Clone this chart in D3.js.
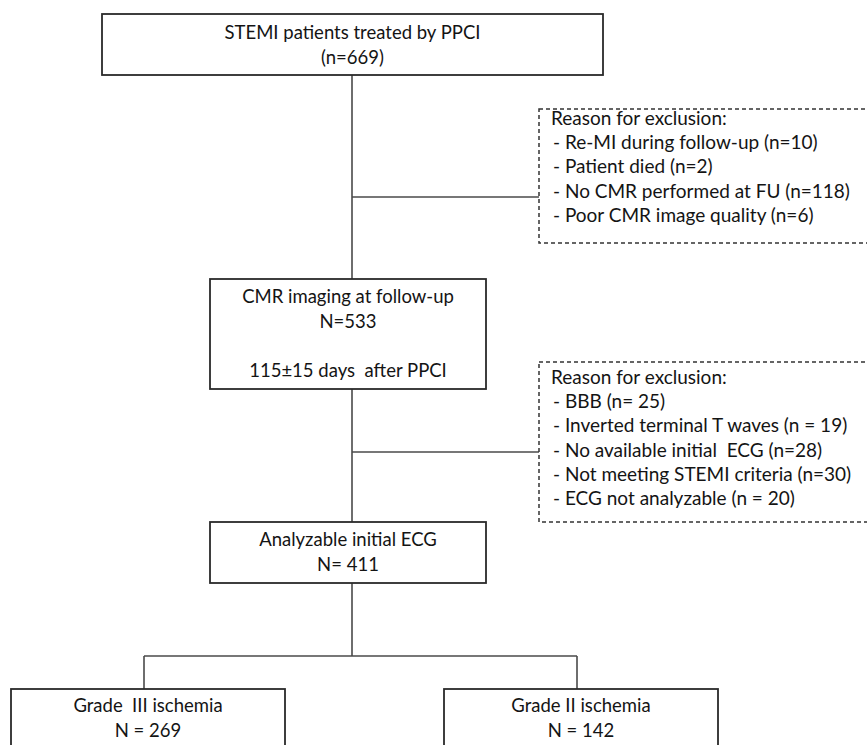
<!DOCTYPE html>
<html>
<head>
<meta charset="utf-8">
<script src="https://cdn.jsdelivr.net/npm/d3@7"></script>
<style>
  body { margin: 0; background: #fff; }
  text { font-family: Lato, "Open Sans", sans-serif; fill: #141414; white-space: pre; }
</style>
</head>
<body>
<div id="chart"></div>
<script>
// flowchart content
const stepIds = ['enrolled', 'cmr', 'ecg', 'grade3', 'grade2'];
const stepTitles = ['STEMI patients treated by PPCI', 'CMR imaging at follow-up', 'Analyzable initial ECG', 'Grade  III ischemia', 'Grade II ischemia'];
const stepCounts = ['(n=669)', 'N=533', 'N= 411', 'N = 269', 'N = 142'];
const stepNotes = ['', '115\u00b115 days  after PPCI', '', '', ''];

const exclusionTitle = 'Reason for exclusion:';
const exclusionAfterPPCI = [
  '- Re-MI during follow-up (n=10)',
  '- Patient died (n=2)',
  '- No CMR performed at FU (n=118)',
  '- Poor CMR image quality (n=6)'
];
const exclusionAfterCMR = [
  '- BBB (n= 25)',
  '- Inverted terminal T waves (n = 19)',
  '- No available initial  ECG (n=28)',
  '- Not meeting STEMI criteria (n=30)',
  '- ECG not analyzable (n = 20)'
];

// layout (page units)
const layout = {
  enrolled: {x0: 102, x1: 603, y0: 14, y1: 75, base: 39},
  cmr: {x0: 210, x1: 486, y0: 279, y1: 389, base: 303},
  ecg: {x0: 210, x1: 486, y0: 522, y1: 583, base: 546},
  grade3: {x0: 11, x1: 285, y0: 689, y1: 765, base: 712},
  grade2: {x0: 444, x1: 718, y0: 689, y1: 765, base: 712}
};
const exclusionLayout = [
  {x0: 539, x1: 872, y0: 109, y1: 243, base: 125, branchY: 197},
  {x0: 539, x1: 872, y0: 362, y1: 522, base: 384, branchY: 452}
];
const config = {
  width: 867, height: 745,
  spineX: 352, splitY: 656, dropX: [144, 577],
  lineHeight: 24.6, boxFont: 18.5, noteFont: 19
};

const x = d3.scaleLinear().domain([0, config.width]).range([0, config.width]);
const y = d3.scaleLinear().domain([0, config.height]).range([0, config.height]);

const svg = d3.select('#chart')
  .append('svg')
  .attr('width', config.width)
  .attr('height', config.height);

// connectors
const connectors = [
  [[config.spineX, layout.enrolled.y1], [config.spineX, layout.cmr.y0]],
  [[config.spineX, layout.cmr.y1], [config.spineX, layout.ecg.y0]],
  [[config.spineX, layout.ecg.y1], [config.spineX, config.splitY]],
  [[config.dropX[0], config.splitY], [config.dropX[1], config.splitY]],
  [[config.dropX[0], config.splitY], [config.dropX[0], layout.grade3.y0]],
  [[config.dropX[1], config.splitY], [config.dropX[1], layout.grade2.y0]],
  ...exclusionLayout.map(d => [[config.spineX, d.branchY], [d.x0, d.branchY]])
];
const line = d3.line().x(d => x(d[0])).y(d => y(d[1]));
svg.selectAll('.connector')
  .data(connectors)
  .join('path')
  .attr('class', 'connector')
  .attr('d', line)
  .attr('fill', 'none')
  .attr('stroke', '#4a4a4a')
  .attr('stroke-width', 1.6);

// step boxes
const steps = stepIds.map((id, i) => ({
  id,
  lines: [stepTitles[i], stepCounts[i]].concat(stepNotes[i] ? ['', stepNotes[i]] : []),
  ...layout[id]
}));

const boxes = svg.selectAll('.step')
  .data(steps)
  .join('g')
  .attr('class', 'step');

boxes.append('rect')
  .attr('x', d => x(d.x0))
  .attr('y', d => y(d.y0))
  .attr('width', d => x(d.x1) - x(d.x0))
  .attr('height', d => y(d.y1) - y(d.y0))
  .attr('fill', '#fff')
  .attr('stroke', '#2a2a2a')
  .attr('stroke-width', 1.8);

boxes.selectAll('text')
  .data(d => d.lines.map((t, j) => ({t, cx: (d.x0 + d.x1) / 2, by: d.base + j * config.lineHeight})))
  .join('text')
  .attr('x', d => x(d.cx))
  .attr('y', d => y(d.by))
  .attr('text-anchor', 'middle')
  .style('font-size', config.boxFont + 'px')
  .text(d => d.t);

// exclusion boxes
const exclusions = [exclusionAfterPPCI, exclusionAfterCMR].map((items, i) => ({
  lines: [exclusionTitle].concat(items),
  ...exclusionLayout[i]
}));

const notes = svg.selectAll('.exclusion')
  .data(exclusions)
  .join('g')
  .attr('class', 'exclusion');

notes.append('rect')
  .attr('x', d => x(d.x0))
  .attr('y', d => y(d.y0))
  .attr('width', d => x(d.x1) - x(d.x0))
  .attr('height', d => y(d.y1) - y(d.y0))
  .attr('fill', '#fff')
  .attr('stroke', '#333')
  .attr('stroke-width', 1.5)
  .attr('stroke-dasharray', '4 3');

notes.selectAll('text')
  .data(d => d.lines.map((t, j) => ({t, lx: d.x0 + (j === 0 ? 12 : 14), by: d.base + j * (config.lineHeight - 0.4)})))
  .join('text')
  .attr('x', d => x(d.lx))
  .attr('y', d => y(d.by))
  .style('font-size', config.noteFont + 'px')
  .text(d => d.t);
</script>
</body>
</html>
